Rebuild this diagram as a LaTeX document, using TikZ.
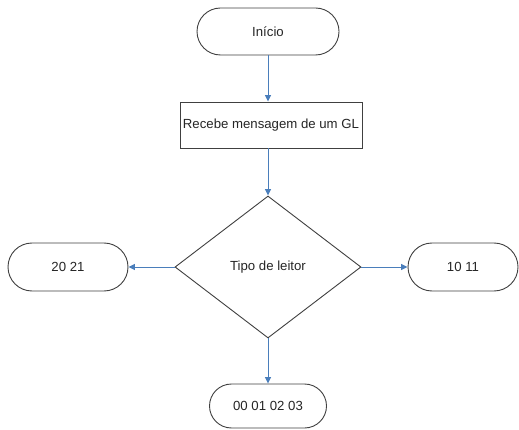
\documentclass[tikz,border=0pt]{standalone}
\usepackage{fontspec}
\setmainfont{Liberation Sans}
\usetikzlibrary{shapes.misc,shapes.geometric,arrows.meta}
\definecolor{flowblue}{HTML}{4A7EBB}
\definecolor{edgegray}{HTML}{404040}
\definecolor{textgray}{HTML}{262626}
\tikzset{
  basebox/.style={draw=edgegray, line width=0.9pt, fill=white, inner sep=0pt,
    text=textgray, font=\fontsize{13.2}{15}\selectfont},
  terminal/.style={basebox, rounded rectangle},
  process/.style={basebox, rectangle},
  decision/.style={basebox, diamond, aspect=1.31},
  flow/.style={draw=flowblue, line width=0.9pt, -{Triangle[width=6pt,length=6.5pt]}}
}
\begin{document}
\begin{tikzpicture}[x=1pt,y=-1pt]
  \useasboundingbox (0,0) rectangle (519,430);
  \node[terminal, minimum width=142pt, minimum height=47pt] (start) at (268,31.5) {Início};
  \node[process, minimum width=182pt, minimum height=46pt] (recv) at (271,125) {Recebe mensagem de um GL};
  \node[decision, minimum width=186pt, minimum height=142pt] (type) at (268,267) {Tipo de leitor};
  \node[terminal, minimum width=120pt, minimum height=48pt] (left) at (68,267) {20 21};
  \node[terminal, minimum width=110pt, minimum height=48pt] (right) at (463,267) {10 11};
  \node[terminal, minimum width=117pt, minimum height=44pt] (down) at (268,406) {00 01 02 03};

  \draw[flow] (start.south) -- (start.south |- recv.north);
  \draw[flow] (type.north |- recv.south) -- (type.north);
  \draw[flow] (type.west) -- (left.east);
  \draw[flow] (type.east) -- (right.west);
  \draw[flow] (type.south) -- (down.north);
\end{tikzpicture}
\end{document}
